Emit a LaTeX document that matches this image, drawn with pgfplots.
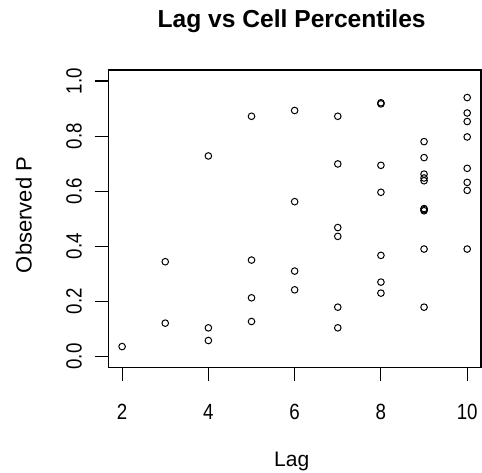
\documentclass[border=0pt]{standalone}
\usepackage{fontspec}
\setmainfont{Liberation Sans}
\newfontfamily\tickfont[FakeStretch=0.85]{Liberation Sans}
\usepackage{pgfplots}
\pgfplotsset{compat=1.18}
\usepackage{pgfplotstable}
\pgfplotstableread{
x y
2 0.036
3 0.344
3 0.121
4 0.728
4 0.104
4 0.058
5 0.872
5 0.350
5 0.213
5 0.127
6 0.893
6 0.562
6 0.310
6 0.242
7 0.872
7 0.699
7 0.468
7 0.436
7 0.179
7 0.104
8 0.921
8 0.917
8 0.694
8 0.596
8 0.367
8 0.270
8 0.230
9 0.780
9 0.722
9 0.662
9 0.648
9 0.638
9 0.537
9 0.533
9 0.529
9 0.390
9 0.179
10 0.940
10 0.884
10 0.853
10 0.797
10 0.683
10 0.632
10 0.603
10 0.390
}\datatable
\begin{document}
\begin{tikzpicture}
\begin{axis}[
  name=ax,
  scale only axis,
  width=372.7pt, height=297.5pt,
  xmin=1.68, xmax=10.32,
  ymin=-0.04, ymax=1.04,
  xtick={2,4,6,8,10},
  ytick={0,0.2,0.4,0.6,0.8,1.0},
  tick align=outside,
  major tick length=13.7pt,
  xtick pos=bottom, ytick pos=left,
  axis line style={line width=1.1pt},
  every tick/.style={black, line width=1.1pt},
  /pgf/number format/assume math mode=true,
  yticklabel style={/pgf/number format/fixed, /pgf/number format/fixed zerofill, /pgf/number format/precision=1,
     font=\tickfont\fontsize{22}{24}\selectfont, xshift=-12.9pt, rotate=90, anchor=base, inner sep=0pt},
  xticklabel style={font=\tickfont\fontsize{22}{24}\selectfont, anchor=base, inner sep=0pt, yshift=-38.1pt},
  xlabel={Lag},
  ylabel={Observed P},
  xlabel style={font=\fontsize{21}{24}\selectfont, at={(axis description cs:0.492,-0.3334)}, anchor=base, inner sep=0pt},
  ylabel style={font=\fontsize{22}{24}\selectfont, at={(axis description cs:-0.2055,0.5126)}, rotate=0, anchor=base, inner sep=0pt},
  title={\bfseries Lag vs Cell Percentiles},
  title style={font=\fontsize{24.6}{28}\selectfont, at={(axis description cs:0.492,1.122)}, anchor=base, inner sep=0pt},
]
\addplot[only marks, mark=o, mark size=3.3pt, mark options={line width=1pt, black}] table[x=x, y=y] {\datatable};
\end{axis}
\pgfresetboundingbox
\path[use as bounding box] ([xshift=-108.3pt,yshift=-104.5pt]ax.south west) rectangle ++(482pt,472pt);
\end{tikzpicture}
\end{document}
